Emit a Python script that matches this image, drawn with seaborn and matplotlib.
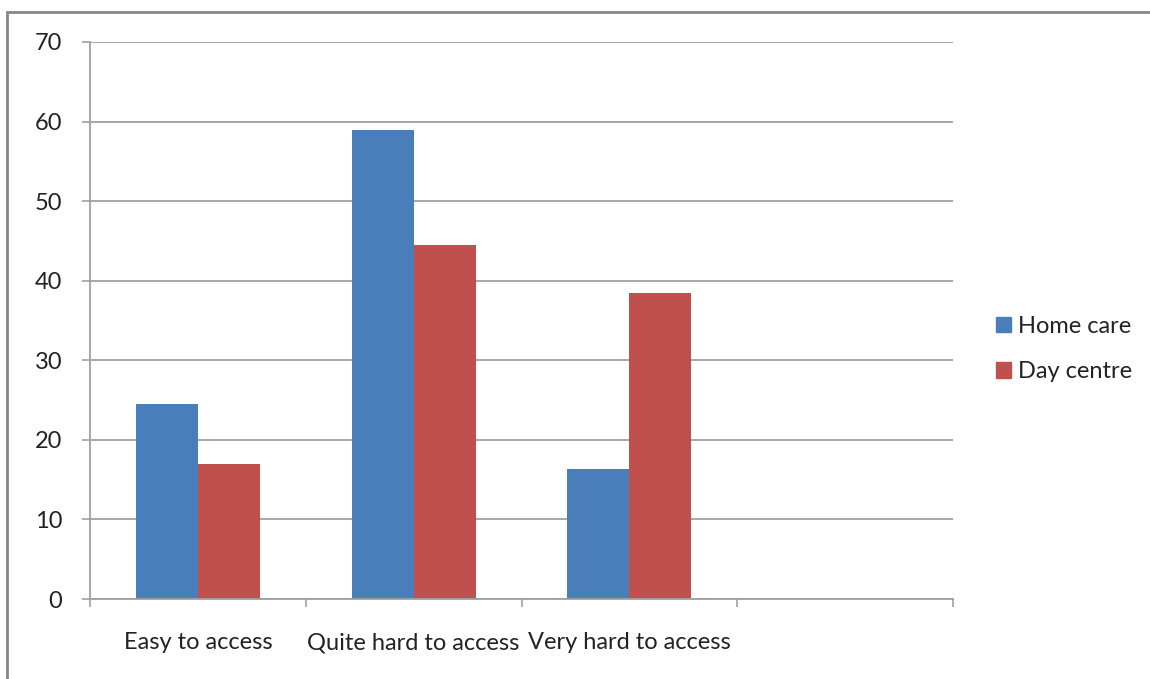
import matplotlib
matplotlib.use("Agg")
import matplotlib.pyplot as plt
import seaborn as sns
import pandas as pd
from matplotlib.patches import Rectangle
from matplotlib.ticker import FixedLocator

categories = ["Easy to access", "Quite hard to access", "Very hard to access", ""]
series = ["Home care", "Day centre"]
home_care = [24.5, 59.0, 16.3]
day_centre = [17.0, 44.5, 38.4]
yticks = [0, 10, 20, 30, 40, 50, 60, 70]
colors = ["#4A7EBB", "#C0504D"]

rows = []
for c, v in zip(categories[:3], home_care):
    rows.append({"cat": c, "series": series[0], "value": v})
for c, v in zip(categories[:3], day_centre):
    rows.append({"cat": c, "series": series[1], "value": v})
df = pd.DataFrame(rows)

sns.set_theme(style="white")
plt.rcParams["font.family"] = ["Lato", "DejaVu Sans"]

fig = plt.figure(figsize=(11.5, 6.79), dpi=100)
ax = fig.add_axes([90/1150, 1-599/679, (953-90)/1150, (599-42)/679])

sns.barplot(data=df, x="cat", y="value", hue="series", order=categories,
            hue_order=series, palette=colors, width=0.575, gap=0,
            linewidth=0, saturation=1, ax=ax, legend=False, errorbar=None)

gcol = "#A0A0A0"
fs = 17
ax.set_xlim(-0.5, 3.5)
ax.set_ylim(0, 70)
ax.set_yticks(yticks)
ax.set_yticklabels([str(t) for t in yticks], fontsize=fs, color="#222222")
ax.yaxis.grid(True, color=gcol, linewidth=1.3)
ax.set_axisbelow(True)
ax.tick_params(axis="y", length=6, width=1.2, color=gcol, pad=14, left=True)

ax.xaxis.set_major_locator(FixedLocator([-0.5, 0.5, 1.5, 2.5, 3.5]))
ax.xaxis.set_major_formatter(plt.NullFormatter())
ax.xaxis.set_minor_locator(FixedLocator([0, 1, 2, 3]))
ax.set_xticklabels(categories, minor=True, fontsize=fs, color="#222222")
ax.tick_params(axis="x", which="major", length=6, width=1.2, color=gcol, bottom=True)
ax.tick_params(axis="x", which="minor", length=0, pad=24)
ax.set_xlabel("")
ax.set_ylabel("")

for s in ["top", "right"]:
    ax.spines[s].set_visible(False)
for s in ["left", "bottom"]:
    ax.spines[s].set_color(gcol)
    ax.spines[s].set_linewidth(1.3)

handles = [Rectangle((0, 0), 1, 1, color=c) for c in colors]
fig.legend(handles, series, loc="center left",
           bbox_to_anchor=(975/1150, 1-349/679), frameon=False,
           fontsize=fs, handlelength=0.62, handleheight=0.62,
           handletextpad=0.3, labelspacing=1.05, labelcolor="#222222")

fig.patches.append(Rectangle((7/1150, -0.1), 2.0, 1-12/679+0.1,
                             transform=fig.transFigure, fill=False,
                             edgecolor="#868686", linewidth=2.0))

fig.savefig("out.png", dpi=100)
